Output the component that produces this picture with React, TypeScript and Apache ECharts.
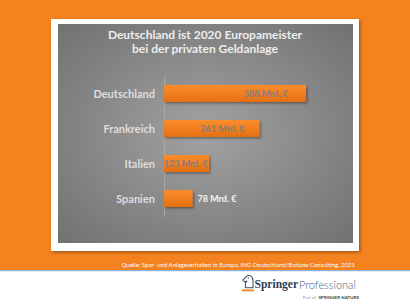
import React, { useEffect, useRef } from "react";
import * as echarts from "echarts";

const categories = ["Deutschland", "Frankreich", "Italien", "Spanien"];
const values = [388, 261, 123, 78];
const valueLabels = ["388 Mrd. €", "261 Mrd. €", "123 Mrd. €", "78 Mrd. €"];
const titleLines = ["Deutschland ist 2020 Europameister", "bei der privaten Geldanlage"];
const sourceText = "Quelle: Spar- und Anlageverhalten in Europa, ING Deutschland/Barkow Consulting, 2021";

const knightPath =
  "M4 15 L4 11 C4 9 5 8 6 7 L3 8 L1 6 L5 2 C6 1 8 0 10 1 C12 2 13 4 13 7 L13 15 Z M7 3 L8 4";

export default function App() {
  const ref = useRef<HTMLDivElement>(null);
  useEffect(() => {
    document.body.style.margin = "0";
    try {
      echarts.graphic.registerShape("knight", echarts.graphic.extendPath(knightPath, {}) as any);
    } catch (e) {}
    const chart = echarts.init(ref.current!, undefined, { renderer: "svg" });
    const insideOffsets = [18, 15, 1];
    const data = values.map((v, i) => {
      if (i < 3) {
        return {
          value: v,
          label: {
            show: true,
            position: "insideRight",
            distance: insideOffsets[i],
            formatter: valueLabels[i],
            color: "#808080",
            fontWeight: "bold",
            fontSize: 9,
            fontFamily: "Lato",
          },
        };
      }
      return {
        value: v,
        label: {
          show: true,
          position: "right",
          distance: 5,
          formatter: valueLabels[i],
          color: "#f4f4f4",
          fontWeight: "bold",
          fontSize: 9,
          fontFamily: "Lato",
        },
      };
    });
    const titleText = (t: string, y: number) => ({
      type: "text",
      z: 5,
      style: {
        x: 205,
        y,
        text: t,
        align: "center",
        verticalAlign: "middle",
        fill: "#eeeeee",
        fontWeight: "bold",
        fontSize: 12,
        fontFamily: "Lato",
      },
    });
    chart.setOption({
      animation: false,
      backgroundColor: "#ffffff",
      graphic: [
        { type: "rect", z: -10, shape: { x: 0, y: 0, width: 410, height: 270 }, style: { fill: "#f4821f" } },
        { type: "rect", z: -10, shape: { x: 0, y: 270, width: 410, height: 1.2 }, style: { fill: "#8fb6da" } },
        {
          type: "rect",
          z: -9,
          shape: { x: 51, y: 19, width: 308, height: 232 },
          style: { fill: "#ffffff", shadowBlur: 3, shadowOffsetX: 1.5, shadowOffsetY: 1.5, shadowColor: "rgba(0,0,0,0.35)" },
        },
        {
          type: "rect",
          z: -8,
          shape: { x: 58, y: 24, width: 295, height: 219 },
          style: {
            fill: new echarts.graphic.RadialGradient(0.5, 0.5, 0.75, [
              { offset: 0, color: "#a2a2a2" },
              { offset: 1, color: "#6e6e6e" },
            ]),
          },
        },
        titleText(titleLines[0], 34),
        titleText(titleLines[1], 48),
        {
          type: "text",
          z: 5,
          style: {
            x: 355,
            y: 264,
            text: sourceText,
            align: "right",
            verticalAlign: "middle",
            fill: "#ffffff",
            fontSize: 6,
            fontFamily: "Lato",
          },
        },
        {
          type: "knight",
          z: 5,
          x: 242,
          y: 275,
          scaleX: 0.85,
          scaleY: 0.85,
          style: { fill: "none", stroke: "#3a4a66", lineWidth: 1.2 },
        },
        { type: "rect", z: 5, shape: { x: 242, y: 289.5, width: 12, height: 1.8 }, style: { fill: "#f4821f" } },
        {
          type: "text",
          z: 5,
          style: {
            x: 298,
            y: 284,
            text: "Springer",
            align: "right",
            verticalAlign: "middle",
            fill: "#2c3b57",
            fontSize: 11.5,
            fontWeight: "bold",
            fontFamily: "Liberation Serif",
          },
        },
        {
          type: "text",
          z: 5,
          style: {
            x: 299,
            y: 284,
            text: "Professional",
            align: "left",
            verticalAlign: "middle",
            fill: "#3f5a82",
            fontSize: 11,
            fontWeight: 300,
            fontFamily: "Lato",
          },
        },
        {
          type: "text",
          z: 5,
          style: {
            x: 359,
            y: 297,
            text: "{a|Part of  }{b|SPRINGER NATURE}",
            align: "right",
            verticalAlign: "middle",
            rich: {
              a: { fill: "#999999", fontSize: 4.5, fontFamily: "Lato" },
              b: { fill: "#444444", fontSize: 4.5, fontFamily: "Lato", fontWeight: "bold" },
            },
          },
        },
      ],
      grid: { left: 164, top: 76, width: 146.4, height: 140, containLabel: false },
      xAxis: {
        type: "value",
        min: 0,
        max: 400,
        show: false,
      },
      yAxis: {
        type: "category",
        data: categories,
        inverse: true,
        axisLine: { show: true, lineStyle: { color: "#a6a6a6", width: 1 } },
        axisTick: { show: false },
        axisLabel: { color: "#dedede", fontWeight: "bold", fontSize: 11, fontFamily: "Lato", margin: 9 },
      },
      series: [
        {
          type: "bar",
          data,
          barWidth: 17,
          itemStyle: {
            color: new echarts.graphic.LinearGradient(0, 0, 0, 1, [
              { offset: 0, color: "#fb8d2c" },
              { offset: 1, color: "#e56f10" },
            ]),
            shadowColor: "rgba(0,0,0,0.35)",
            shadowBlur: 2,
            shadowOffsetX: 1.5,
            shadowOffsetY: 1.5,
          },
        },
      ],
    });
    return () => chart.dispose();
  }, []);
  return <div ref={ref} style={{ position: "fixed", left: 0, top: 0, width: 410, height: 307 }} />;
}
